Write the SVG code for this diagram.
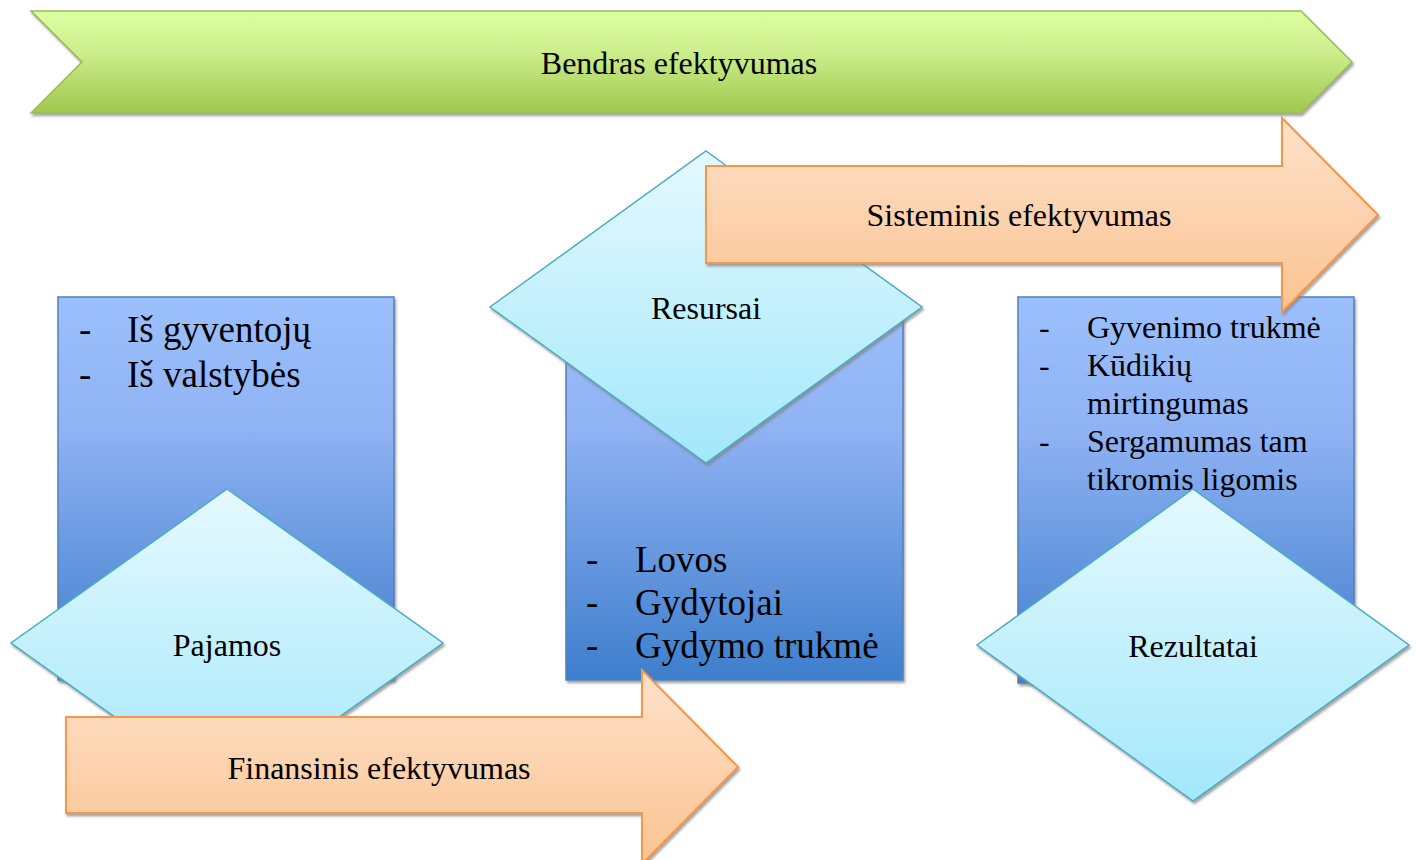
<svg xmlns="http://www.w3.org/2000/svg" width="1417" height="860" viewBox="0 0 1417 860">
<defs>
<linearGradient id="gGreen" x1="0" y1="0" x2="0" y2="1"><stop offset="0" stop-color="#dcffa0"/><stop offset="0.4" stop-color="#cdee8c"/><stop offset="1" stop-color="#9fc84d"/></linearGradient>
<linearGradient id="gOrange" x1="0" y1="0" x2="0" y2="1"><stop offset="0" stop-color="#fee2ca"/><stop offset="1" stop-color="#fbc392"/></linearGradient>
<linearGradient id="gBlue" x1="0" y1="0" x2="0" y2="1"><stop offset="0" stop-color="#9cc0fd"/><stop offset="0.35" stop-color="#8fb2f3"/><stop offset="1" stop-color="#3e7ecc"/></linearGradient>
<linearGradient id="gCyan" x1="0" y1="0" x2="0" y2="1"><stop offset="0" stop-color="#e5f9fe"/><stop offset="1" stop-color="#a3e8fb"/></linearGradient>
<filter id="sh" x="-5%" y="-5%" width="115%" height="115%"><feDropShadow dx="1.5" dy="2.5" stdDeviation="1" flood-color="#808080" flood-opacity="0.7"/></filter>
</defs>
<style>
.green{fill:url(#gGreen);stroke:#9bbb59;stroke-width:1.5;filter:url(#sh)}
.orange{fill:url(#gOrange);stroke:#f79646;stroke-width:2;filter:url(#sh)}
.blue{fill:url(#gBlue);stroke:#4f81bd;stroke-width:1.5;filter:url(#sh)}
.cyan{fill:url(#gCyan);stroke:#4bacc6;stroke-width:1.5;filter:url(#sh)}
text{font-family:"Liberation Serif","Times New Roman",serif;fill:#000}
.lbl{font-size:32px;text-anchor:middle}
.dlbl{font-size:32px;text-anchor:middle}
.big{font-size:37px}
.mid{font-size:32px}
</style>
<g id="bendras">
<polygon class="green" points="31,11 1301,11 1352,62 1301,113 31,113 82,62"/>
<text class="lbl" x="679" y="74">Bendras efektyvumas</text>
</g>
<g id="pajamos-list">
<rect class="blue" x="58" y="297" width="336" height="383"/>
<text class="big" x="79" y="342">-</text><text class="big" x="127" y="342">Iš gyventojų</text>
<text class="big" x="79" y="387">-</text><text class="big" x="127" y="387">Iš valstybės</text>
</g>
<g id="resursai-list">
<rect class="blue" x="566" y="297" width="337" height="383"/>
<text class="big" x="586" y="572">-</text><text class="big" x="635" y="572">Lovos</text>
<text class="big" x="586" y="615">-</text><text class="big" x="635" y="615">Gydytojai</text>
<text class="big" x="586" y="658">-</text><text class="big" x="635" y="658">Gydymo trukmė</text>
</g>
<g id="rezultatai-list">
<rect class="blue" x="1018" y="297" width="336" height="386"/>
<text class="mid" x="1039" y="338">-</text><text class="mid" x="1087" y="338">Gyvenimo trukmė</text>
<text class="mid" x="1039" y="376">-</text><text class="mid" x="1087" y="376">Kūdikių</text>
<text class="mid" x="1087" y="414">mirtingumas</text>
<text class="mid" x="1039" y="452">-</text><text class="mid" x="1087" y="452">Sergamumas tam</text>
<text class="mid" x="1087" y="490">tikromis ligomis</text>
</g>
<g id="pajamos">
<polygon class="cyan" points="227,489 443,643 227,797 11,643"/>
<text class="dlbl" x="227" y="656">Pajamos</text>
</g>
<g id="resursai">
<polygon class="cyan" points="706,151 922,307 706,463 490,307"/>
<text class="dlbl" x="706" y="319">Resursai</text>
</g>
<g id="rezultatai">
<polygon class="cyan" points="1193,489 1409,645 1193,801 977,645"/>
<text class="dlbl" x="1193" y="657">Rezultatai</text>
</g>
<g id="connectors">
<g id="sisteminis">
<polygon class="orange" points="706,166 1282,166 1282,118 1378,215 1282,312 1282,263 706,263"/>
<text class="lbl" x="1019" y="226">Sisteminis efektyvumas</text>
</g>
<g id="finansinis">
<polygon class="orange" points="66,717 642,717 642,670 738,767 642,864 642,813 66,813"/>
<text class="lbl" x="379" y="779">Finansinis efektyvumas</text>
</g>
</g>
</svg>
